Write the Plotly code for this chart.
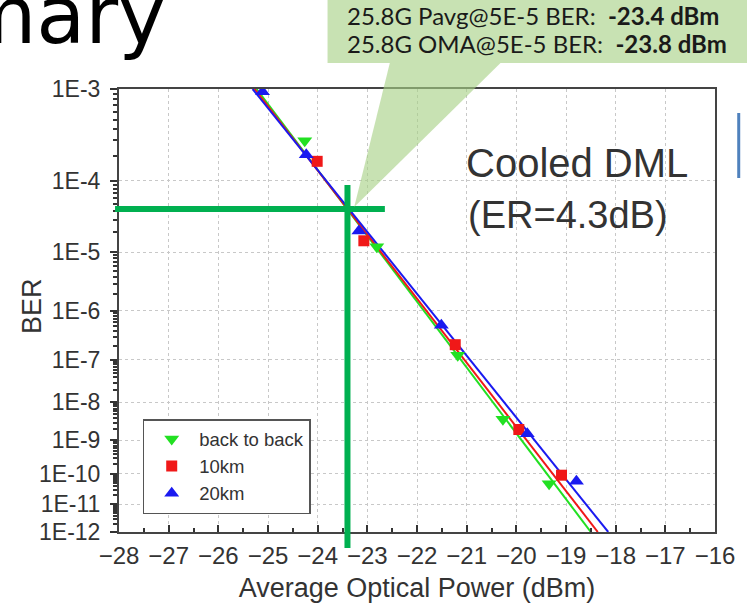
import numpy as np
import plotly.graph_objects as go

# ---------------- data ----------------
b2b_x = [-24.26, -22.81, -21.18, -20.27, -19.34]
b2b_ber = [2.97e-4, 1.22e-5, 1.26e-7, 3.7e-9, 4.8e-11]

km10_x = [-24.01, -23.07, -21.23, -19.95, -19.09]
km10_ber = [1.73e-4, 1.5e-5, 2.1e-7, 1.96e-9, 9.0e-11]

km20_x = [-25.11, -24.23, -23.17, -21.51, -19.78, -18.79]
km20_ber = [9.4e-4, 2.06e-4, 2.1e-5, 5.2e-7, 1.5e-9, 5.8e-11]

# fitted lines: x positions where each fit reaches BER 1E-3 and 1E-12
fit_ber = [1e-3, 1e-12]
b2b_fit_x = [-25.23, -18.50]
km10_fit_x = [-25.27, -18.36]
km20_fit_x = [-25.31, -18.15]

x_ticks = list(range(-28, -15))
y_tick_exp = list(range(3, 13))
y_tick_text = [f"1E-{e}" for e in y_tick_exp]

# marked operating point
cross_power = -23.4
cross_ber = 4.3e-5


def q(b):
    """BER (Q-type) axis: log10(-log10(BER))"""
    return np.log10(-np.log10(np.asarray(b, dtype=float)))


X0, X1 = -28.0, -16.0
Y_TOP, Y_BOT = float(q(1e-3)), float(q(1e-12))

GREEN = "#22e022"
RED = "#f01818"
BLUE = "#1a1af0"

fig = go.Figure()

for fx, c in [(b2b_fit_x, GREEN), (km10_fit_x, RED), (km20_fit_x, BLUE)]:
    fig.add_trace(go.Scatter(x=fx, y=q(fit_ber), mode="lines",
                             line=dict(color=c, width=2), showlegend=False,
                             hoverinfo="skip"))

fig.add_trace(go.Scatter(x=b2b_x, y=q(b2b_ber), mode="markers", name="back to back",
                         marker=dict(symbol="triangle-down", size=13, color=GREEN)))
fig.add_trace(go.Scatter(x=km10_x, y=q(km10_ber), mode="markers", name="10km",
                         marker=dict(symbol="square", size=11, color=RED)))
fig.add_trace(go.Scatter(x=km20_x, y=q(km20_ber), mode="markers", name="20km",
                         marker=dict(symbol="triangle-up", size=13, color=BLUE)))

minor_y = [m * 10.0 ** (-e) for e in range(4, 13) for m in range(2, 10)]

L, R, T, B = 119, 25, 89, 78
W, H = 747, 610
PW, PH = W - L - R, H - T - B


def px_x(px):
    return (px - L) / PW


def px_y(py):
    return (H - B - py) / PH


def dx(v):
    return (v - X0) / (X1 - X0)


def dy(ber):
    return (float(q(ber)) - Y_BOT) / (Y_TOP - Y_BOT)


fig.update_layout(
    width=W, height=H,
    margin=dict(l=L, r=R, t=T, b=B),
    paper_bgcolor="white", plot_bgcolor="white",
    font=dict(family="Liberation Sans, Arial, sans-serif", color="#333333"),
    showlegend=True,
    legend=dict(x=px_x(143), y=px_y(419), xanchor="left", yanchor="top",
                bordercolor="#555555", borderwidth=1.5, bgcolor="white",
                font=dict(size=18.5, color="#333333"), itemwidth=45,
                tracegroupgap=0),
    xaxis=dict(range=[X0, X1], tickvals=x_ticks, ticks="inside", ticklen=7,
               tickwidth=1.5, tickcolor="#333", showline=True, linecolor="#444",
               linewidth=2, mirror=True, showgrid=True, gridcolor="#c8c8c8",
               griddash="dot", gridwidth=1, zeroline=False,
               tickfont=dict(size=24), ticklabelstandoff=1,
               minor=dict(tickvals=[v + 0.5 for v in x_ticks[:-1]], ticks="inside",
                          ticklen=4, tickcolor="#333", showgrid=False),
               title=dict(text="Average Optical Power (dBm)", font=dict(size=27),
                          standoff=10)),
    yaxis=dict(range=[Y_BOT, Y_TOP], tickvals=list(q([10.0 ** (-e) for e in y_tick_exp])),
               ticktext=y_tick_text, ticks="outside", ticklen=7, tickwidth=1.5,
               tickcolor="#333", showline=True, linecolor="#444", linewidth=2,
               mirror=True, showgrid=True, gridcolor="#c8c8c8", griddash="dot",
               gridwidth=1, zeroline=False, tickfont=dict(size=23),
               ticklabelstandoff=5,
               minor=dict(tickvals=list(q(minor_y)), ticks="outside", ticklen=4,
                          tickcolor="#333", showgrid=False)),
)

# y-axis title (placed like the original, close to the tick labels)
fig.add_annotation(xref="paper", yref="paper", x=px_x(31), y=px_y(306),
                   xanchor="center", yanchor="middle", showarrow=False,
                   textangle=-90, text="BER", font=dict(size=27, color="#333333"))

# crosshair at the operating point
CROSS_GREEN = "#00b050"
cx, cy = dx(cross_power), dy(cross_ber)
fig.add_shape(type="line", xref="paper", yref="paper", x0=px_x(115), x1=px_x(388),
              y0=cy, y1=cy, line=dict(color=CROSS_GREEN, width=6))
fig.add_shape(type="line", xref="paper", yref="paper", x0=cx, x1=cx,
              y0=px_y(185), y1=px_y(548), line=dict(color=CROSS_GREEN, width=6))

# callout box with pointer
CALLOUT = "rgba(166,208,132,0.62)"
fig.add_shape(type="rect", xref="paper", yref="paper", x0=px_x(330), x1=px_x(760),
              y0=px_y(63), y1=px_y(-5), fillcolor=CALLOUT, line=dict(width=0),
              layer="above")
fig.add_shape(type="path", xref="paper", yref="paper",
              path=f"M {px_x(393)},{px_y(63)} L {px_x(505)},{px_y(63)} L {px_x(357)},{px_y(207)} Z",
              fillcolor=CALLOUT, line=dict(width=0), layer="above")

fig.add_annotation(xref="paper", yref="paper", x=px_x(348), y=px_y(15),
                   xanchor="left", yanchor="middle", showarrow=False,
                   text="25.8G Pavg@5E-5 BER:&nbsp;&nbsp;<b>-23.4 dBm</b>",
                   font=dict(family="Lato, sans-serif", size=24, color="#1a1a1a"))
fig.add_annotation(xref="paper", yref="paper", x=px_x(348), y=px_y(44),
                   xanchor="left", yanchor="middle", showarrow=False,
                   text="25.8G OMA@5E-5 BER:&nbsp;&nbsp;<b>-23.8 dBm</b>",
                   font=dict(family="Lato, sans-serif", size=24, color="#1a1a1a"))

# in-plot label
fig.add_annotation(xref="paper", yref="paper", x=px_x(468), y=px_y(163),
                   xanchor="left", yanchor="middle", showarrow=False,
                   text="Cooled DML", font=dict(size=40, color="#333333"))
fig.add_annotation(xref="paper", yref="paper", x=px_x(470), y=px_y(215),
                   xanchor="left", yanchor="middle", showarrow=False,
                   text="(ER=4.3dB)", font=dict(size=38, color="#333333"))

# slide title fragment (cut off at the left edge)
fig.add_annotation(xref="paper", yref="paper", x=px_x(169), y=px_y(15),
                   xanchor="right", yanchor="middle", showarrow=False,
                   text="Summary", font=dict(family="DejaVu Sans, sans-serif", size=80,
                                            color="#000000"))

# fragment of a slide element at the right edge
fig.add_shape(type="line", xref="paper", yref="paper", x0=px_x(746), x1=px_x(746),
              y0=px_y(113), y1=px_y(178), line=dict(color="#4f81bd", width=3))

fig.write_html("out.html")
